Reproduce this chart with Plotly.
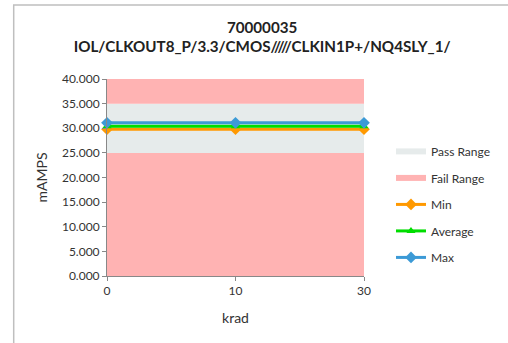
import plotly.graph_objects as go

# data
krad = ["0", "10", "30"]
min_vals = [29.8, 29.8, 29.8]
avg_vals = [30.4, 30.4, 30.4]
max_vals = [31.1, 31.1, 31.1]
fail_low = [25, 25, 25]
pass_top = [35, 35, 35]
fail_top = [40, 40, 40]

fig = go.Figure()

# background bands
fig.add_trace(go.Scatter(x=krad, y=fail_low, mode='none', fill='tozeroy',
                         fillcolor='#FFB3B3', name='Fail Range',
                         legendgroup='fail', showlegend=False, hoverinfo='skip'))
fig.add_trace(go.Scatter(x=krad, y=pass_top, mode='none', fill='tonexty',
                         fillcolor='#E6EBEB', name='Pass Range',
                         legendgroup='pass', legendrank=1))
fig.add_trace(go.Scatter(x=krad, y=fail_top, mode='none', fill='tonexty',
                         fillcolor='#FFB3B3', name='Fail Range',
                         legendgroup='fail', legendrank=2))

fig.add_trace(go.Scatter(x=krad, y=min_vals, mode='lines+markers', name='Min',
                         line=dict(color='#FF9900', width=3),
                         marker=dict(symbol='diamond', size=9, color='#FF9900'),
                         legendgroup='min', legendrank=3, cliponaxis=False))
fig.add_trace(go.Scatter(x=krad, y=avg_vals, mode='lines+markers', name='Average',
                         line=dict(color='#00DD00', width=3),
                         marker=dict(symbol='triangle-up', size=8, color='#00DD00'),
                         legendgroup='avg', legendrank=4, cliponaxis=False))
fig.add_trace(go.Scatter(x=krad, y=max_vals, mode='lines+markers', name='Max',
                         line=dict(color='#3C9AD6', width=3),
                         marker=dict(symbol='diamond', size=9, color='#3C9AD6'),
                         legendgroup='max', legendrank=5, cliponaxis=False))

# outer chart border
fig.add_shape(type='rect', xref='paper', yref='paper',
              x0=-0.363, x1=1.6, y0=-0.5, y1=1.376,
              line=dict(color='#BFBFBF', width=1.5), layer='below')

fig.update_layout(
    width=508, height=343,
    margin=dict(l=107, r=142, t=79, b=67),
    paper_bgcolor='white', plot_bgcolor='white',
    font=dict(family='Lato, Open Sans, sans-serif', size=12, color='#333333'),
    title=dict(text='<b>70000035<br>IOL/CLKOUT8_P/3.3/CMOS/////CLKIN1P+/NQ4SLY_1/</b>',
               x=0.516, xanchor='center', y=0.905, yanchor='top',
               font=dict(size=15.2, color='#222222')),
    legend=dict(x=1.105, y=0.706, xanchor='left', yanchor='top',
                font=dict(size=12), tracegroupgap=7.5, itemwidth=30),
    xaxis=dict(type='category', range=[0, 2], showgrid=False,
               showline=True, linecolor='#888888', ticks='outside',
               ticklen=4, tickcolor='#888888',
               title=dict(text='krad', font=dict(size=14), standoff=15)),
    yaxis=dict(range=[0, 40], dtick=5, tickformat='.3f', showgrid=False,
               showline=True, linecolor='#888888', ticks='outside',
               ticklen=4, tickcolor='#888888',
               title=dict(text='mAMPS', font=dict(size=14), standoff=11)),
)

fig.write_html("out.html", config={'displayModeBar': False},
               post_script="document.body.style.margin='0px';")
